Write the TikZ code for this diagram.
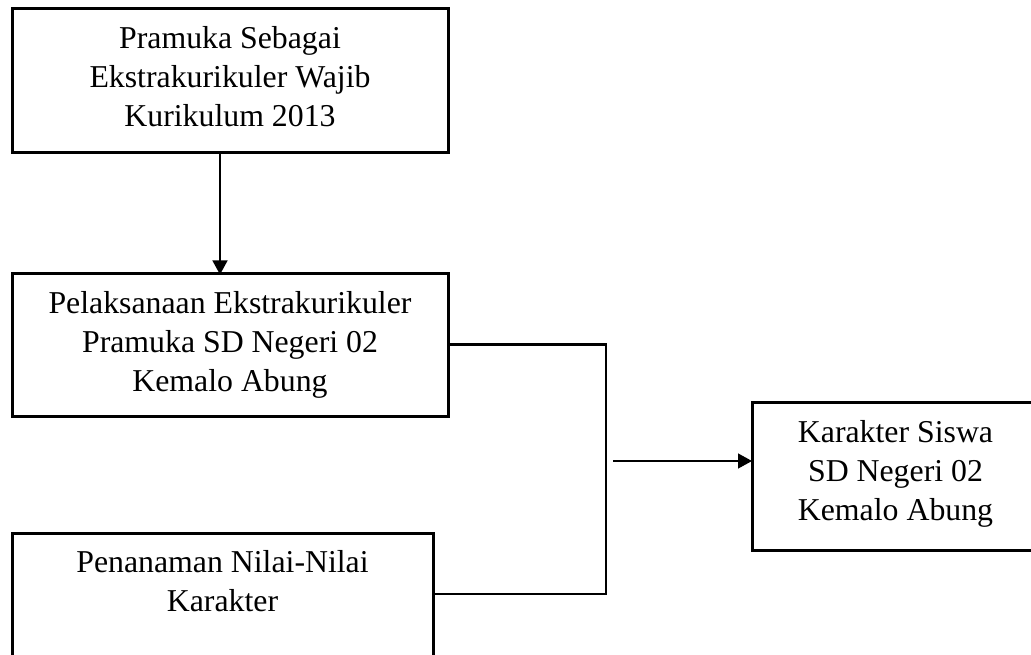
\documentclass[tikz,border=0pt]{standalone}
\usepackage{fontspec}
\setmainfont{Liberation Serif}
\usetikzlibrary{arrows.meta,calc}
\newcommand\dstr[1]{\rule[-#1pt]{0pt}{#1pt}}
\begin{document}
\begin{tikzpicture}[x=1pt,y=-1pt,
  boxstyle/.style={draw=black,line width=3pt,rectangle,inner sep=0pt,align=center,
    font=\fontsize{31.8}{39}\selectfont},
  arr/.style={draw=black,line width=1.3pt,-{Triangle[length=14pt,width=15pt]}},
  elb/.style={draw=black,line width=2.3pt}]
\useasboundingbox (0,0) rectangle (1031,655);
\node[boxstyle,minimum width=436pt,minimum height=144pt] (box1) at (230,81)
  {Pramuka Sebagai\\Ekstrakurikuler Wajib\\Kurikulum 2013\dstr{9}};
\node[boxstyle,minimum width=436pt,minimum height=143pt] (box2) at (230,344.5)
  {Pelaksanaan Ekstrakurikuler\\Pramuka SD Negeri 02\\Kemalo Abung\dstr{3}};
\node[boxstyle,minimum width=421pt,minimum height=144pt] (box3) at (222.5,605)
  {Penanaman Nilai-Nilai\\Karakter\\\dstr{8.5}};
\node[boxstyle,minimum width=287pt,minimum height=148pt] (box4) at (895.5,476)
  {Karakter Siswa\\SD Negeri 02\\Kemalo Abung\dstr{11}};
\draw[arr,shorten >=-3pt] ([xshift=-10pt]box1.south) -- ([xshift=-10pt]box2.north);
\coordinate (jb) at (606,594);
\draw[elb] (box2.east) -| (jb) -- (jb -| box3.east);
\coordinate (s) at (613,461);
\draw[arr,shorten >=-1.5pt] (s) -- (s -| box4.west);
\end{tikzpicture}
\end{document}
